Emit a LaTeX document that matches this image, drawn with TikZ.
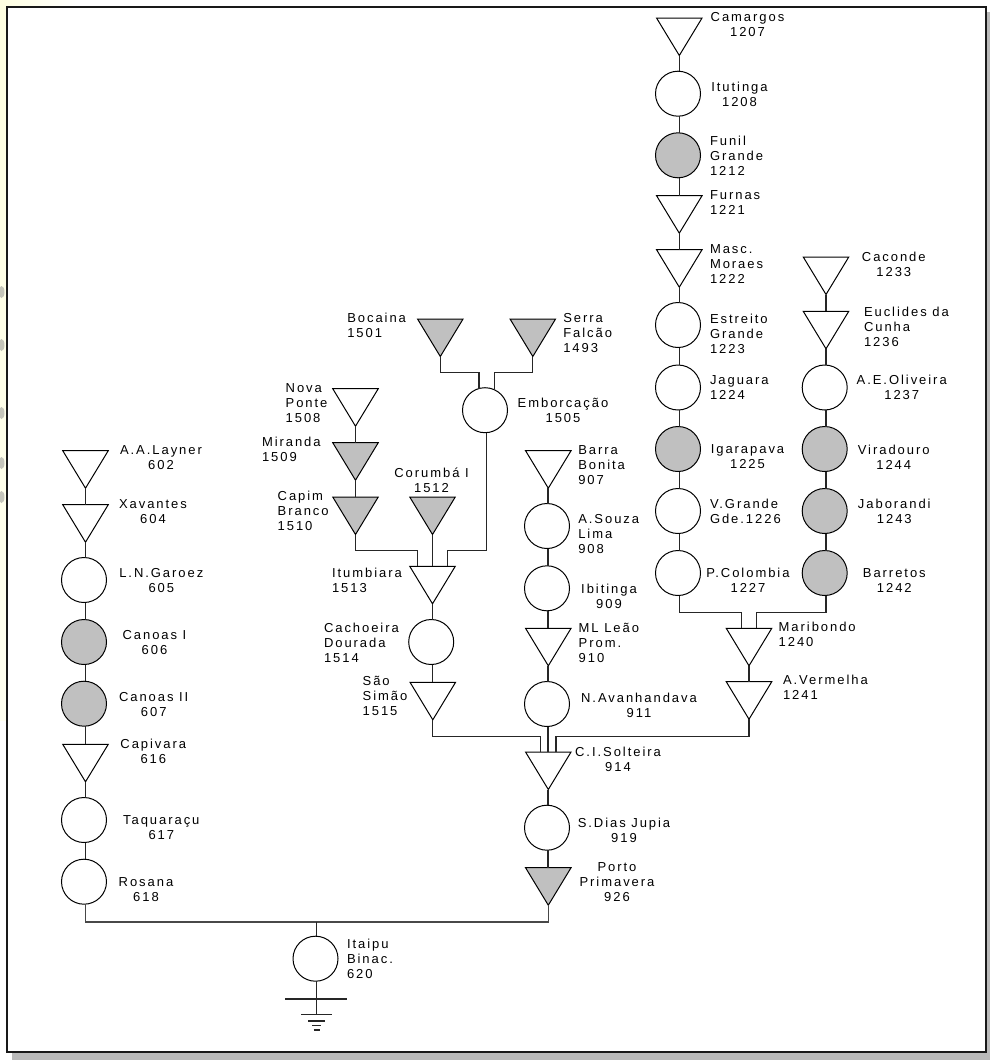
\documentclass[tikz,border=0pt]{standalone}
\usepackage{fontspec}
\setmainfont[LetterSpace=15]{Liberation Sans}
\usepackage{tikz}
\usetikzlibrary{
  calc,
  shapes.geometric
}
\definecolor{PlantGray}{RGB}{192,192,192}
\definecolor{BusGray}{RGB}{72,72,72}
\definecolor{ShadowGray}{RGB}{186,186,186}
\definecolor{SlideCream}{RGB}{255,255,225}
\tikzset{
  plant/.style={draw,circle,fill=white,minimum size=45pt,inner sep=0pt,outer sep=0pt,line width=1pt},
  reservoir/.style={draw,isosceles triangle,shape border rotate=270,isosceles triangle stretches,minimum width=45.5pt,minimum height=37.5pt,inner sep=0pt,outer sep=0pt,fill=white,line width=1pt,anchor=north},
  grayed/.style={fill=PlantGray},
  wire/.style={line width=1.1pt,draw=black!85},
  bus/.style={line width=1.5pt,draw=BusGray},
  lbl/.style={inner sep=0pt,outer sep=0pt,font=\fontsize{13}{15}\selectfont},
  lbll/.style={lbl,align=left,anchor=north west},
  lblc/.style={lbl,align=center,anchor=north}
}
\begin{document}
\begin{tikzpicture}[x=1pt,y=-1pt]
\useasboundingbox (0,0) rectangle (990,1060);
% backdrop
\fill[white] (0,0) rectangle (990,1060);
\fill[left color=SlideCream,right color=white] (0,0) rectangle (78,6);
\fill[top color=SlideCream,bottom color=SlideCream!50] (0,0) rectangle (6,720);
\foreach \y in {292,345,413,463,497}{
  \fill[black!45,opacity=0.5] (1.5,\y) ellipse (3 and 6);
}
\fill[ShadowGray] (12,12) rectangle (990,1060);
\draw[line width=2pt,fill=white,draw=black!90] (6.5,6.5) rectangle (986,1052);
% spines
\coordinate (colA) at (85.3,0);
\coordinate (colB) at (355.5,0);
\coordinate (colC) at (432.7,0);
\coordinate (colD) at (548,0);
\coordinate (colE) at (679.3,0);
\coordinate (colF) at (826,0);
\coordinate (colH) at (316.7,0);
% Paranapanema
\node[reservoir] (layner) at (85.5,450.7) {};
\node[reservoir] (xavantes) at (85.5,504.7) {};
\node[plant] (garoez) at (84,580) {};
\node[plant,grayed] (canoasa) at (84,642) {};
\node[plant,grayed] (canoasb) at (84,703.7) {};
\node[reservoir] (capivara) at (85.5,744.3) {};
\node[plant] (taquaracu) at (84,820) {};
\node[plant] (rosana) at (84,881.7) {};
% Paranaiba
\node[reservoir,grayed] (bocaina) at (440.3,319) {};
\node[reservoir,grayed] (serra) at (532.8,319) {};
\node[plant] (emborcacao) at (485,410.2) {};
\node[reservoir] (novaponte) at (355.5,388.7) {};
\node[reservoir,grayed] (miranda) at (355.5,442.7) {};
\node[reservoir,grayed] (capim) at (355.5,497) {};
\node[reservoir,grayed] (corumba) at (432.5,497) {};
\node[reservoir] (itumbiara) at (432.5,566.3) {};
\node[plant] (cachoeira) at (431.2,642) {};
\node[reservoir] (saosimao) at (432.8,682.3) {};
% Tiete
\node[reservoir] (barra) at (548.3,450.7) {};
\node[plant] (souza) at (547,526) {};
\node[plant] (ibitinga) at (547,588.3) {};
\node[reservoir] (mlleao) at (548.3,628.3) {};
\node[plant] (avanhandava) at (547,704) {};
\node[reservoir] (solteira) at (548.3,752) {};
\node[plant] (jupia) at (547,827.7) {};
\node[reservoir,grayed] (porto) at (548.3,867.7) {};
% Grande
\node[reservoir] (camargos) at (679.3,18) {};
\node[plant] (itutinga) at (678,93.7) {};
\node[plant,grayed] (funil) at (678,155.3) {};
\node[reservoir] (furnas) at (679.3,195.7) {};
\node[reservoir] (masc) at (679.3,249.7) {};
\node[plant] (estreito) at (678,325) {};
\node[plant] (jaguara) at (678,387.5) {};
\node[plant,grayed] (igarapava) at (678,449) {};
\node[plant] (vgrande) at (678,511) {};
\node[plant] (pcolombia) at (678,573) {};
\node[reservoir] (caconde) at (826,257) {};
\node[reservoir] (euclides) at (826,311.3) {};
\node[plant] (oliveira) at (824.7,387.5) {};
\node[plant,grayed] (viradouro) at (824.7,449) {};
\node[plant,grayed] (jaborandi) at (824.7,511) {};
\node[plant,grayed] (barretos) at (824.7,573) {};
\node[reservoir] (maribondo) at (749,628.3) {};
\node[reservoir] (vermelha) at (749,681.7) {};
% Itaipu
\node[plant] (itaipu) at (315.5,958.7) {};
% straight links
\foreach \a/\b in {layner/xavantes,xavantes/garoez,garoez/canoasa,canoasa/canoasb,canoasb/capivara,capivara/taquaracu,taquaracu/rosana}{
  \draw[wire] (\a.south -| colA) -- (\b.north -| colA);
}
\foreach \a/\b in {novaponte/miranda,miranda/capim}{
  \draw[wire] (\a.south -| colB) -- (\b.north -| colB);
}
\foreach \a/\b in {corumba/itumbiara,itumbiara/cachoeira,cachoeira/saosimao}{
  \draw[wire] (\a.south -| colC) -- (\b.north -| colC);
}
\foreach \a/\b in {barra/souza,souza/ibitinga,ibitinga/mlleao,mlleao/avanhandava,avanhandava/solteira,solteira/jupia,jupia/porto}{
  \draw[wire] (\a.south -| colD) -- (\b.north -| colD);
}
\foreach \a/\b in {camargos/itutinga,itutinga/funil,funil/furnas,furnas/masc,masc/estreito,estreito/jaguara,jaguara/igarapava,igarapava/vgrande,vgrande/pcolombia}{
  \draw[wire] (\a.south -| colE) -- (\b.north -| colE);
}
\foreach \a/\b in {caconde/euclides,euclides/oliveira,oliveira/viradouro,viradouro/jaborandi,jaborandi/barretos}{
  \draw[wire] (\a.south -| colF) -- (\b.north -| colF);
}
\draw[wire] (maribondo.south) -- (vermelha.north);
% junctions
\draw[wire] (bocaina.south) |- (479,372.7) -- (479,389);
\draw[wire] (serra.south) |- (494.3,372.7) -- (494.3,389);
\draw[wire] (486.3,432.7) |- (447.7,550.5) -- (447.7,566.3);
\draw[wire] (capim.south) |- (417.3,550.5) -- (417.3,566.3);
\draw[wire] (saosimao.south) |- (540.7,736.5) -- (540.7,752);
\draw[wire] (vermelha.south) |- (556,736.5) -- (556,752);
\draw[wire] (pcolombia.south -| colE) |- (741.3,612.7) -- (741.3,628.3);
\draw[wire] (barretos.south -| colF) |- (756.3,612.7) -- (756.3,628.3);
\draw[bus] (rosana.south -| colA) |- (porto.south |- 0,922) -- (porto.south);
\draw[wire] (colH |- 0,922) -- (itaipu.north -| colH);
\draw[wire] (itaipu.south -| colH) -- (316.7,1014.7);
% ground
\draw[wire] (285,999) -- (347,999);
\draw[wire] (301,1014.7) -- (332,1014.7);
\draw[wire] (308,1021) -- (325,1021);
\draw[wire] (312,1025.7) -- (321,1025.7);
\draw[wire] (313.5,1030) -- (319.5,1030);
% labels
\node[lblc] (lblayner) at (161,445.7) {A.A.Layner\\602};
\node[lblc] (lbxavantes) at (153,500) {Xavantes\\604};
\node[lblc] (lbgaroez) at (161.3,568.7) {L.N.Garoez\\605};
\node[lblc] (lbcanoasa) at (154.5,630.7) {Canoas I\\606};
\node[lblc] (lbcanoasb) at (153.7,692.7) {Canoas II\\607};
\node[lblc] (lbcapivara) at (153.3,738.7) {Capivara\\616};
\node[lblc] (lbtaquaracu) at (161.3,816) {Taquaraçu\\617};
\node[lblc] (lbrosana) at (146,877.7) {Rosana\\618};
\node[lbll] (lbitaipu) at (347,939.3) {Itaipu\\Binac.\\620};
\node[lbll] (lbbocaina) at (347.3,313.3) {Bocaina\\1501};
\node[lbll] (lbserra) at (563.3,313.3) {Serra\\Falcão\\1493};
\node[lblc] (lbemborcacao) at (563,398) {Emborcação\\1505};
\node[lbll] (lbnovaponte) at (285.7,383.3) {Nova\\Ponte\\1508};
\node[lbll] (lbmiranda) at (262,437) {Miranda\\1509};
\node[lblc] (lbcorumba) at (431.5,468.3) {Corumbá I\\1512};
\node[lbll] (lbcapim) at (277.7,491.3) {Capim\\Branco\\1510};
\node[lbll] (lbitumbiara) at (332,568) {Itumbiara\\1513};
\node[lbll] (lbcachoeira) at (324,622.7) {Cachoeira\\Dourada\\1514};
\node[lbll] (lbsaosimao) at (362.7,676) {São\\Simão\\1515};
\node[lbll] (lbbarra) at (578.3,445.7) {Barra\\Bonita\\907};
\node[lbll] (lbsouza) at (578.3,514.3) {A.Souza\\Lima\\908};
\node[lblc] (lbibitinga) at (609,584) {Ibitinga\\909};
\node[lbll] (lbmlleao) at (578.7,623.3) {ML Leão\\Prom.\\910};
\node[lblc] (lbavanhandava) at (639,692.7) {N.Avanhandava\\911};
\node[lblc] (lbsolteira) at (618,746.7) {C.I.Solteira\\914};
\node[lblc] (lbjupia) at (624,818.3) {S.Dias Jupia\\919};
\node[lblc] (lbporto) at (617,862.7) {Porto\\Primavera\\926};
\node[lblc] (lbcamargos) at (747.5,12.7) {Camargos\\1207};
\node[lblc] (lbitutinga) at (739.5,82.3) {Itutinga\\1208};
\node[lbll] (lbfunil) at (710,136.3) {Funil\\Grande\\1212};
\node[lbll] (lbfurnas) at (710,190.7) {Furnas\\1221};
\node[lbll] (lbmasc) at (710,245) {Masc.\\Moraes\\1222};
\node[lbll] (lbestreito) at (710,314) {Estreito\\Grande\\1223};
\node[lbll] (lbjaguara) at (710,375.3) {Jaguara\\1224};
\node[lblc] (lbigarapava) at (747.5,445) {Igarapava\\1225};
\node[lbll] (lbvgrande) at (710,499.3) {V.Grande\\Gde.1226};
\node[lblc] (lbpcolombia) at (748,568.3) {P.Colombia\\1227};
\node[lblc] (lbcaconde) at (893.8,252.3) {Caconde\\1233};
\node[lbll] (lbeuclides) at (864,306.7) {Euclides da\\Cunha\\1236};
\node[lblc] (lboliveira) at (901.7,375.3) {A.E.Oliveira\\1237};
\node[lblc] (lbviradouro) at (893.7,445.3) {Viradouro\\1244};
\node[lblc] (lbjaborandi) at (894.3,499.3) {Jaborandi\\1243};
\node[lblc] (lbbarretos) at (894.3,568.3) {Barretos\\1242};
\node[lbll] (lbmaribondo) at (778.7,622.3) {Maribondo\\1240};
\node[lbll] (lbvermelha) at (783,675) {A.Vermelha\\1241};
\end{tikzpicture}
\end{document}
